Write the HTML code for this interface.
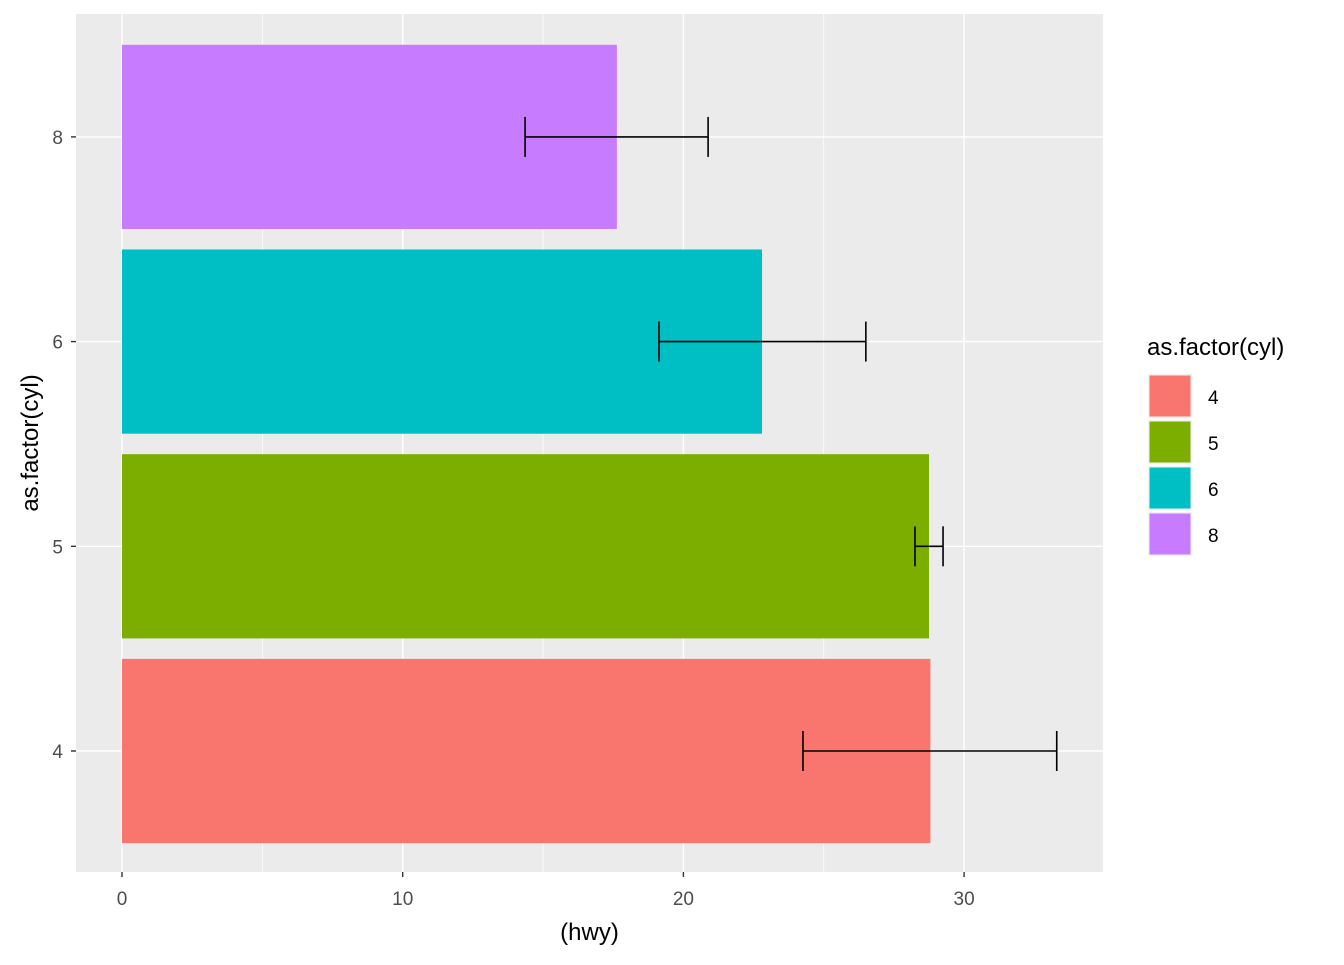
<!DOCTYPE html>
<html><head><meta charset="utf-8"><style>
body{margin:0;background:#fff}
svg text{font-family:"Liberation Sans",Arial,sans-serif}
</style></head><body>
<svg id="chart" width="1344" height="960" xmlns="http://www.w3.org/2000/svg"></svg>
<script>
const categories = ["4","5","6","8"];
const means = [28.8, 28.75, 22.8, 17.63];
const lowers = [24.26, 28.25, 19.13, 14.36];
const uppers = [33.3, 29.25, 26.5, 20.88];
const colors = ["#F8766D","#7CAE00","#00BFC4","#C77CFF"];
const xTicks = [0,10,20,30];
const xMinor = [5,15,25];

const NS="http://www.w3.org/2000/svg";
const svg=document.getElementById('chart');
const P={l:76,r:1103,t:14,b:872};
const x=v=>122+v*28.07;
const y=i=>751-i*204.7;
const band=204.7;
function el(t,a,parent){const e=document.createElementNS(NS,t);for(const k in a)e.setAttribute(k,a[k]);(parent||svg).appendChild(e);return e;}

const bg=el('rect',{x:P.l,y:P.t,width:P.r-P.l,height:P.b-P.t,fill:'#EBEBEB'});


xMinor.forEach(v=>{const g=el('line',{x1:x(v),x2:x(v),y1:P.t,y2:P.b,stroke:'#fff','stroke-width':0.7});

});
xTicks.forEach(v=>{const g=el('line',{x1:x(v),x2:x(v),y1:P.t,y2:P.b,stroke:'#fff','stroke-width':1.4});

});
categories.forEach((c,i)=>{const g=el('line',{x1:P.l,x2:P.r,y1:y(i),y2:y(i),stroke:'#fff','stroke-width':1.4});

});

categories.forEach((c,i)=>{
  const h=band*0.9;
  const b=el('rect',{x:x(0),y:y(i)-h/2,width:x(means[i])-x(0),height:h,fill:colors[i]});
  
  
  const cap=20;
  const g=el('g',{stroke:'#000','stroke-width':1.6,fill:'none'});
  
  
  el('line',{x1:x(lowers[i]),x2:x(uppers[i]),y1:y(i),y2:y(i)},g);
  el('line',{x1:x(lowers[i]),x2:x(lowers[i]),y1:y(i)-cap,y2:y(i)+cap},g);
  el('line',{x1:x(uppers[i]),x2:x(uppers[i]),y1:y(i)-cap,y2:y(i)+cap},g);
  const t=el('line',{x1:P.l-5,x2:P.l,y1:y(i),y2:y(i),stroke:'#333','stroke-width':1.4});
  
  
  const l=el('text',{x:P.l-13,y:y(i)+7,'text-anchor':'end','font-size':19,fill:'#4D4D4D'});
  l.textContent=c;
  
  
});
xTicks.forEach(v=>{
  const t=el('line',{x1:x(v),x2:x(v),y1:P.b,y2:P.b+5,stroke:'#333','stroke-width':1.4});
  
  
  const l=el('text',{x:x(v),y:P.b+33,'text-anchor':'middle','font-size':19,fill:'#4D4D4D'});
  l.textContent=v;
  
  
});
const xt=el('text',{x:(P.l+P.r)/2,y:940,'text-anchor':'middle','font-size':24,fill:'#000'});
xt.textContent='(hwy)';


const yt=el('text',{x:0,y:0,'text-anchor':'middle','font-size':24,fill:'#000',transform:'translate(38,443) rotate(-90)'});
yt.textContent='as.factor(cyl)';



const lt=el('text',{x:1147,y:355,'font-size':24,fill:'#000'});
lt.textContent='as.factor(cyl)';


categories.forEach((c,i)=>{
  const g=el('g',{});
  
  
  el('rect',{x:1148,y:374+i*46,width:44,height:44,fill:'#F2F2F2'},g);
  el('rect',{x:1149.5,y:375.5+i*46,width:41,height:41,fill:colors[i]},g);
  const t=el('text',{x:1208,y:404+i*46,'font-size':19,fill:'#000'},g);
  t.textContent=c;
});
</script>
</body></html>
